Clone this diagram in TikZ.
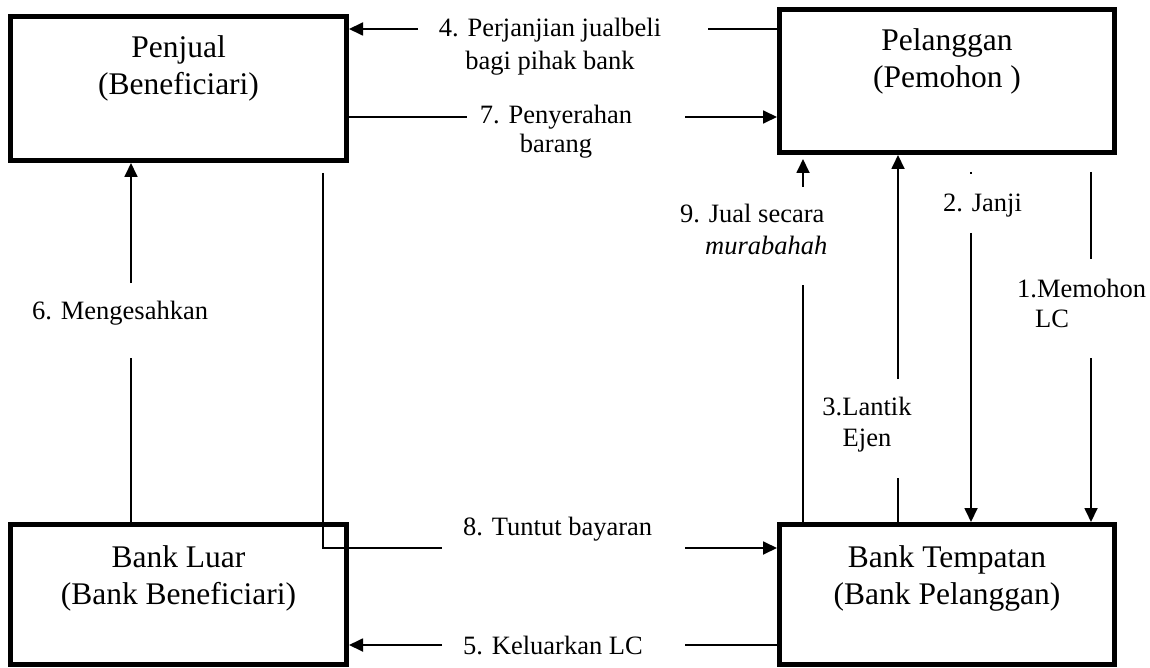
\documentclass[tikz,border=0pt]{standalone}
\usepackage{fontspec}
\setmainfont{Liberation Serif}
\usetikzlibrary{arrows.meta}
\begin{document}
\begin{tikzpicture}[x=1pt,y=-1pt,
  party/.style 2 args={draw,line width=5pt,minimum width=#1,minimum height=#2,inner sep=0pt},
  partytext/.style={anchor=base,inner sep=0pt,font=\fontsize{31.5}{37}\selectfont},
  lbl/.style={inner sep=0pt,font=\fontsize{26.5}{32}\selectfont},
  conn/.style={line width=1.8pt},
  arr/.style={conn,-{Triangle[length=14pt,width=13pt]}}]
\useasboundingbox (0,0) rectangle (1150,668);

% the four parties
\node[party={336pt}{144pt}] (penjual)   at (178.5,88.5) {};
\node[party={335pt}{143pt}] (pelanggan) at (947,81) {};
\node[party={336pt}{140pt}] (luar)      at (178.5,594.5) {};
\node[party={335pt}{140pt}] (tempatan)  at (947,594.5) {};

\node[partytext] (tpenjual) at (178.5,58) {\begin{tabular}[t]{@{}c@{}}Penjual\\(Beneficiari)\end{tabular}};
\node[partytext] (tpelanggan) at (947,51) {\begin{tabular}[t]{@{}c@{}}Pelanggan\\(Pemohon )\end{tabular}};
\node[partytext] (tluar) at (178.5,567) {\begin{tabular}[t]{@{}c@{}}Bank Luar\\(Bank Beneficiari)\end{tabular}};
\node[partytext] (ttempatan) at (947,567) {\begin{tabular}[t]{@{}c@{}}Bank Tempatan\\(Bank Pelanggan)\end{tabular}};

% gap ends and free ends of the flows
\coordinate (g4l) at (418,29);   \coordinate (g4r) at (708,29);
\coordinate (g7l) at (467,117);  \coordinate (g7r) at (685,117);
\coordinate (g5l) at (442,645);  \coordinate (g5r) at (685,645);
\coordinate (g8s) at (323,173);  \coordinate (g8l) at (442,548);  \coordinate (g8r) at (685,548);
\coordinate (g6t) at (131,283);  \coordinate (g6b) at (131,358);
\coordinate (g9t) at (803,187);  \coordinate (g9h) at (803,159);  \coordinate (g9b) at (803,285);
\coordinate (g3t) at (898,379);  \coordinate (g3b) at (898,478);
\coordinate (g2a) at (971,172);  \coordinate (g2b) at (971,174.5); \coordinate (g2c) at (971,233);
\coordinate (g1a) at (1091,172); \coordinate (g1b) at (1091,259);  \coordinate (g1c) at (1091,358);

% 1. Memohon LC
\draw[conn] (g1a) -- (g1b);
\draw[arr] (g1c) -- (tempatan.north -| g1c);
% 2. Janji
\draw[conn] (g2a) -- (g2b);
\draw[arr] (g2c) -- (tempatan.north -| g2c);
% 3. Lantik Ejen
\draw[conn] (tempatan.north -| g3b) -- (g3b);
\draw[arr] (g3t) -- (pelanggan.south -| g3t);
% 4. Perjanjian jualbeli
\draw[conn] (pelanggan.west |- g4r) -- (g4r);
\draw[arr] (g4l) -- (penjual.east |- g4l);
% 5. Keluarkan LC
\draw[conn] (tempatan.west |- g5r) -- (g5r);
\draw[arr] (g5l) -- (luar.east |- g5l);
% 6. Mengesahkan
\draw[conn] (luar.north -| g6b) -- (g6b);
\draw[arr] (g6t) -- (penjual.south -| g6t);
% 7. Penyerahan barang
\draw[conn] (penjual.east |- g7l) -- (g7l);
\draw[arr] (g7r) -- (pelanggan.west |- g7r);
% 8. Tuntut bayaran
\draw[conn] (g8s) -- (g8s |- g8l) -- (g8l);
\draw[arr] (g8r) -- (tempatan.west |- g8r);
% 9. Jual secara murabahah
\draw[conn] (tempatan.north -| g9b) -- (g9b);
\draw[arr] (g9t) -- (g9h);

% flow labels
\node[lbl,anchor=base] (l4) at (550,37) {\begin{tabular}[t]{@{}c@{}}4. Perjanjian jualbeli\\[1pt]bagi pihak bank\end{tabular}};
\node[lbl,anchor=base] (l7) at (556,124) {\begin{tabular}[t]{@{}c@{}}7. Penyerahan\\[-3pt]barang\end{tabular}};
\node[lbl,anchor=base west] (l9) at (680,223) {\begin{tabular}[t]{@{}l@{}}9. Jual secara\\\hspace*{25pt}\textit{murabahah}\end{tabular}};
\node[lbl,anchor=base west] (l2) at (943,212) {2. Janji};
\node[lbl,anchor=base west] (l1) at (1017,297) {\begin{tabular}[t]{@{}l@{}}1.Memohon\\[-2pt]\hspace*{18pt}LC\end{tabular}};
\node[lbl,anchor=base] (l3) at (867,415) {\begin{tabular}[t]{@{}c@{}}3.Lantik\\[-1pt]Ejen\end{tabular}};
\node[lbl,anchor=base west] (l6) at (32,319) {6. Mengesahkan};
\node[lbl,anchor=base west] (l8) at (463,535) {8. Tuntut bayaran};
\node[lbl,anchor=base west] (l5) at (463,654) {5. Keluarkan LC};
\end{tikzpicture}
\end{document}
